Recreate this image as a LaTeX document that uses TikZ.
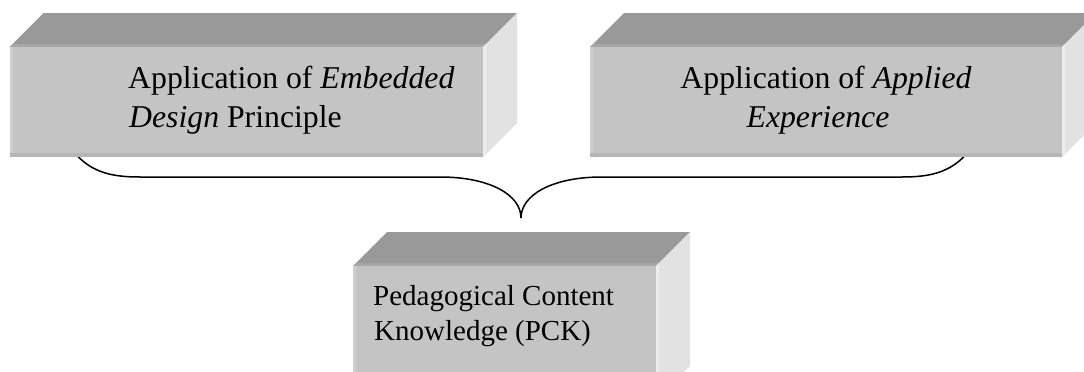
\documentclass[tikz,border=0pt]{standalone}
\usepackage{fontspec}
\setmainfont{Liberation Serif}
\definecolor{topc}{HTML}{999999}
\definecolor{topedge}{HTML}{A6A6A6}
\definecolor{frontc}{HTML}{C4C4C4}
\definecolor{frontl}{HTML}{CFCFCF}
\definecolor{frontb}{HTML}{B6B6B6}
\definecolor{sidec}{HTML}{E2E2E2}
\definecolor{sidel}{HTML}{ECECEC}
\newcommand\drawslab[4]{%
  \fill[topc] (#1,#2) -- (#1+34,#2-34) -- (#3+34,#2-34) -- (#3,#2) -- cycle;
  \fill[topedge] (#1,#2) -- (#1+3,#2-3) -- (#3+3,#2-3) -- (#3,#2) -- cycle;
  \fill[sidec] (#3,#2) -- (#3+34,#2-34) -- (#3+34,#4-34) -- (#3,#4) -- cycle;
  \fill[sidel] (#3,#2) -- (#3+3,#2-3) -- (#3+3,#4-3) -- (#3,#4) -- cycle;
  \fill[frontc] (#1,#2) rectangle (#3,#4);
  \fill[frontl] (#1,#2) rectangle (#1+3,#4);
  \fill[frontb] (#1,#4-4) rectangle (#3,#4);
}
\tikzset{
  bigtxt/.style={inner sep=0pt, font=\fontsize{31.75}{38}\selectfont},
  smalltxt/.style={inner sep=0pt, font=\fontsize{29}{35}\selectfont},
  bracestyle/.style={draw=black, line width=1.5pt, line cap=round}
}
\begin{document}
\begin{tikzpicture}[x=1pt,y=-1pt]
\useasboundingbox[fill=white] (0,0) rectangle (1084,372);
% brace
\coordinate (bl) at (70,147);
\coordinate (bh1) at (140,177);
\coordinate (bh2) at (440,177);
\coordinate (tip) at (521,218);
\coordinate (bh3) at (602,177);
\coordinate (bh4) at (902,177);
\coordinate (br) at (972,147);
\draw[bracestyle] (bl) .. controls (88,172) and (110,177) .. (bh1) -- (bh2)
   .. controls (490,177) and (521,195) .. (tip)
   .. controls (521,195) and (552,177) .. (bh3) -- (bh4)
   .. controls (932,177) and (954,172) .. (br);
% boxes
\drawslab{9.5}{47}{483}{157}
\drawslab{590}{47}{1062}{157}
\drawslab{353}{266}{656}{400}
% texts
\node[bigtxt, anchor=base west] (a1) at (128,88) {Application of \textit{Embedded}};
\node[bigtxt, anchor=base west] (a2) at (129,127) {\textit{Design} Principle};
\node[bigtxt, anchor=base] (b1) at (826,88) {Application of \textit{Applied}};
\node[bigtxt, anchor=base] (b2) at (818,127) {\textit{Experience}};
\node[smalltxt, anchor=base west] (c1) at (373,305) {Pedagogical Content};
\node[smalltxt, anchor=base west] (c2) at (374,340) {Knowledge (PCK)};
\end{tikzpicture}
\end{document}
